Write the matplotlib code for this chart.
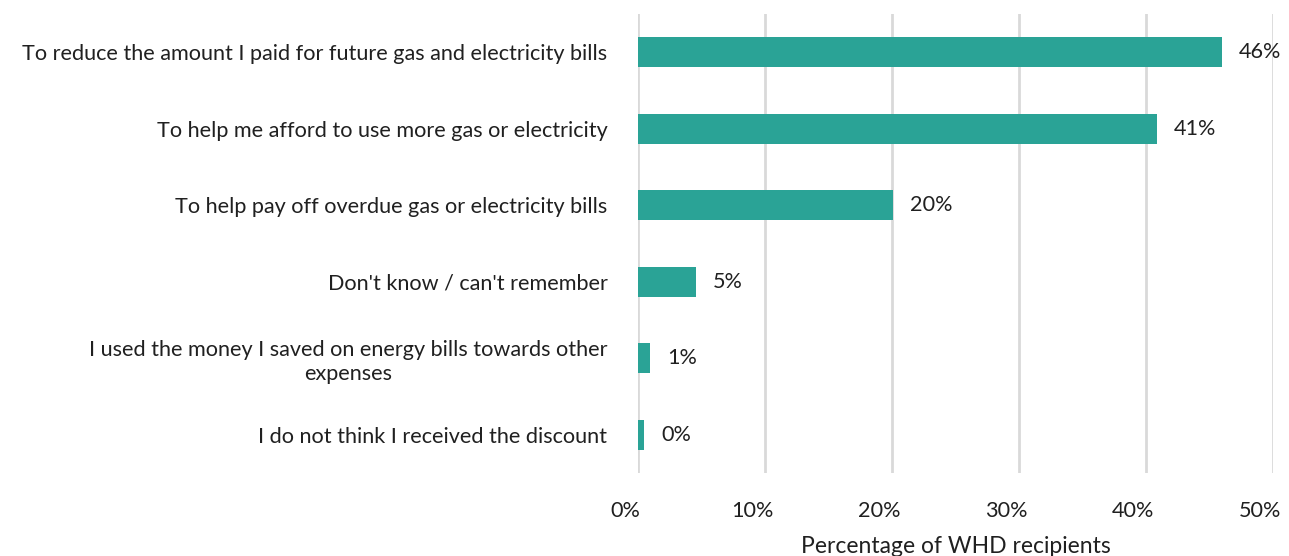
import numpy as np
import matplotlib.pyplot as plt
import matplotlib.transforms as mtransforms

# Antworten, von oben nach unten
labels = [
    "To reduce the amount I paid for future gas and electricity bills",
    "To help me afford to use more gas or electricity",
    "To help pay off overdue gas or electricity bills",
    "Don't know / can't remember",
    "I used the money I saved on energy bills towards other\nexpenses",
    "I do not think I received the discount",
]
values = [46.0, 40.9, 20.1, 4.6, 0.95, 0.5]
value_text = ["46%", "41%", "20%", "5%", "1%", "0%"]
xticks = [0, 10, 20, 30, 40, 50]

plt.rcParams['font.family'] = ['Lato', 'DejaVu Sans']
fs = 15.6

fig = plt.figure(figsize=(12.89, 5.56), dpi=100)
ax = fig.add_axes([0.495, 0.149, 0.4926, 0.826])

y = np.arange(len(labels))
ax.barh(y, values, height=0.39, color='#2aa396', zorder=3)

for i in range(len(values)):
    ax.annotate(value_text[i], (values[i], y[i]), xytext=(12, 0),
                textcoords='offset points', ha='left', va='center',
                fontsize=fs, color='#202020')

ax.set_yticks(y)
ax.set_yticklabels(labels, fontsize=fs, color='#202020', multialignment='center')
ax.invert_yaxis()
ax.set_ylim(len(labels) - 0.5, -0.5)

ax.set_xlim(0, 50)
ax.set_xticks(xticks)
ax.set_xticklabels([str(t) + '%' for t in xticks], fontsize=fs, color='#202020')
ax.set_xlabel('Percentage of WHD recipients', fontsize=16.5, color='#202020', labelpad=11)

ax.tick_params(axis='x', length=0, pad=20)
ax.tick_params(axis='y', length=0, pad=22)

# x-Beschriftungen etwas nach links, wie im Original
shift = mtransforms.ScaledTranslation(-13 / 100, 0, fig.dpi_scale_trans)
for lab in ax.get_xticklabels():
    lab.set_transform(lab.get_transform() + shift)

# styling
ax.grid(True, axis='x', color='#d9d9d9', linewidth=2, zorder=0)
for s in ax.spines.values():
    s.set_visible(False)

fig.savefig('out.png', dpi=100)
